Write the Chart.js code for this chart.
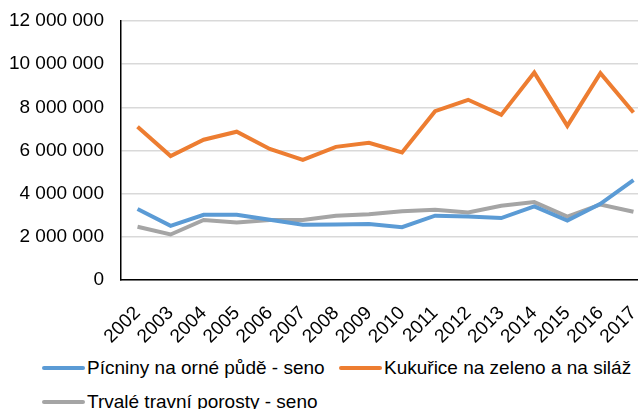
<!DOCTYPE html>
<html lang="cs">
<head>
    <meta charset="UTF-8">
    <title>Pícniny</title>
    <script src="https://cdn.jsdelivr.net/npm/chart.js"></script>
    <style>
        html, body { margin: 0; padding: 0; background: #fff; overflow: hidden; }
        body { width: 638px; height: 409px; position: relative; font-family: "Liberation Sans", Arial, sans-serif; }
        #wrap { position: absolute; left: 0; top: 0; width: 650px; height: 345px; }
        .legend { position: absolute; left: 0; top: 0; font-size: 19px; color: #000; }
        .item { position: absolute; white-space: nowrap; line-height: 22px; }
        .item span.mark { display: inline-block; width: 43px; height: 4px; border-radius: 2px; vertical-align: middle; margin-right: 2px; position: relative; top: -1px; }
    </style>
</head>
<body>
    <div id="wrap"><canvas id="chart"></canvas></div>
    <div class="legend" id="legend"></div>

    <script>
        const years = ['2002', '2003', '2004', '2005', '2006', '2007', '2008', '2009',
                       '2010', '2011', '2012', '2013', '2014', '2015', '2016', '2017'];
        const picniny = [3290000, 2510000, 3020000, 3020000, 2790000, 2560000, 2570000, 2590000,
                         2450000, 2980000, 2940000, 2870000, 3410000, 2750000, 3530000, 4630000];
        const kukurice = [7100000, 5740000, 6500000, 6870000, 6070000, 5570000, 6170000, 6360000,
                          5910000, 7820000, 8350000, 7650000, 9610000, 7140000, 9580000, 7760000];
        const trvale = [2470000, 2110000, 2780000, 2670000, 2780000, 2780000, 2980000, 3050000,
                        3180000, 3250000, 3130000, 3440000, 3610000, 2940000, 3500000, 3160000];
        const seriesNames = ['Pícniny na orné půdě - seno', 'Kukuřice na zeleno a na siláž', 'Trvalé travní porosty - seno'];
        const colors = ['#5b9bd5', '#ed7d31', '#a5a5a5'];

        Chart.defaults.font.family = '"Liberation Sans", Arial, sans-serif';
        Chart.defaults.font.size = 19;
        Chart.defaults.color = '#000';

        function fmt(v) {
            return String(v).replace(/\B(?=(\d{3})+(?!\d))/g, ' ');
        }

        const data = [picniny, kukurice, trvale];
        const ctx = document.getElementById('chart').getContext('2d');
        new Chart(ctx, {
            type: 'line',
            data: {
                labels: years,
                datasets: data.map((d, i) => ({
                    label: seriesNames[i],
                    data: d,
                    borderColor: colors[i],
                    backgroundColor: colors[i],
                    borderWidth: 4,
                    pointRadius: 0,
                    tension: 0,
                    fill: false
                }))
            },
            options: {
                responsive: true,
                maintainAspectRatio: false,
                animation: false,
                layout: { padding: { top: 21, left: 8, right: 0, bottom: 0 } },
                plugins: {
                    legend: { display: false },
                    tooltip: { enabled: false }
                },
                scales: {
                    x: {
                        offset: true,
                        grid: { display: false, drawTicks: false },
                        border: { color: '#000', width: 1.5 },
                        ticks: { minRotation: 45, maxRotation: 45, padding: 22, autoSkip: false },
                        afterFit: s => {
                            s.height = 65;
                            s.paddingLeft = 0;
                            s.paddingRight = 0;
                        }
                    },
                    y: {
                        min: 0,
                        max: 12000000,
                        grid: { color: '#d9d9d9', lineWidth: 1.5, drawTicks: false },
                        border: { color: '#000', width: 1.5 },
                        ticks: { stepSize: 2000000, padding: 17, callback: v => fmt(v) },
                        afterFit: s => {
                            s.width = 113;
                            s.paddingTop = 0;
                            s.paddingBottom = 0;
                        }
                    }
                }
            }
        });

        const legendPos = [
            { x: 42, y: 357 },
            { x: 339, y: 357 },
            { x: 42, y: 391 }
        ];
        const legend = document.getElementById('legend');
        seriesNames.forEach((name, i) => {
            const el = document.createElement('div');
            el.className = 'item';
            el.style.left = legendPos[i].x + 'px';
            el.style.top = legendPos[i].y + 'px';
            el.innerHTML = '<span class="mark" style="background:' + colors[i] + '"></span>' + name;
            legend.appendChild(el);
        });
    </script>
</body>
</html>
